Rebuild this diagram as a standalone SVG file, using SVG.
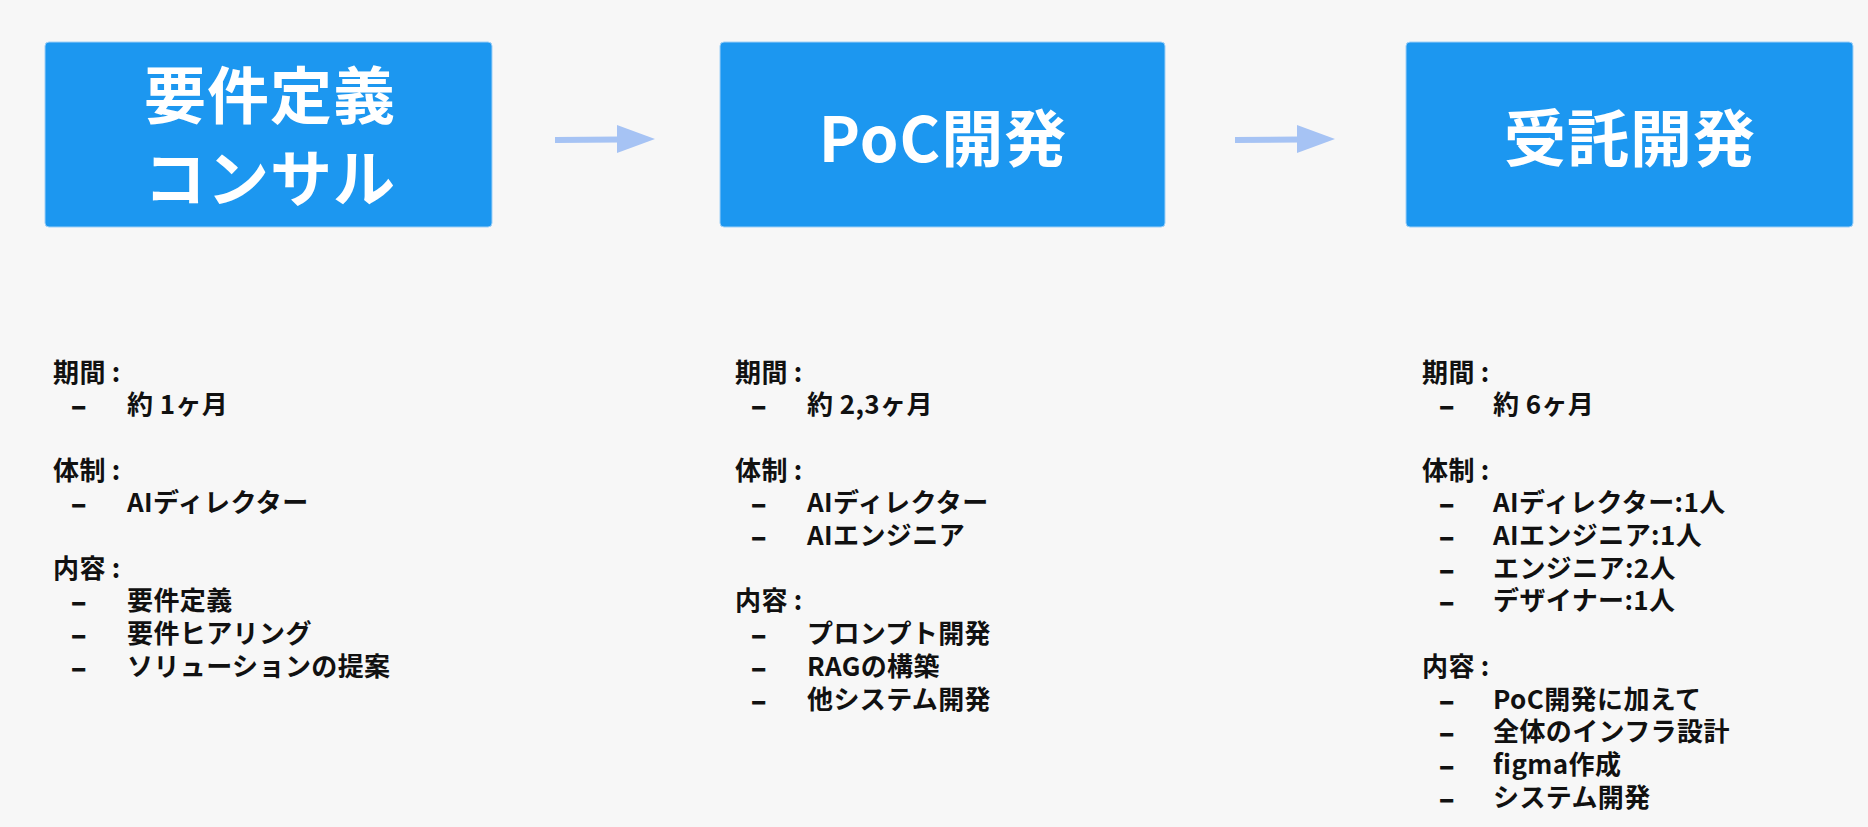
<svg xmlns="http://www.w3.org/2000/svg" width="1868" height="827" viewBox="0 0 1868 827">
<style>
.box{fill:#1c97f0;stroke:#9fd0f7;stroke-width:1}
.title{font-family:"Noto Sans CJK JP","Noto Sans",sans-serif;font-weight:700;font-size:62px;fill:#ffffff;text-anchor:middle;letter-spacing:1px}
.t{font-family:"Noto Sans CJK JP","Noto Sans",sans-serif;font-weight:700;font-size:26px;fill:#111111;letter-spacing:0.4px}
.d{font-family:"Liberation Sans",Arial,sans-serif;font-size:24px;stroke:#111111;stroke-width:1.2;letter-spacing:0}
.arrow{stroke:#a6c3f4;stroke-width:6;fill:none}
.head{fill:#a6c3f4}
</style>
<rect width="1868" height="827" fill="#f7f7f7"/>
<g id="connectors">
<g id="arrow1"><line class="arrow" x1="555" y1="140" x2="620" y2="139.5"/><polygon class="head" points="617,125 655,139 617,153"/></g>
<g id="arrow2"><line class="arrow" x1="1235" y1="140" x2="1300" y2="139.5"/><polygon class="head" points="1297,125 1335,139 1297,153"/></g>
</g>
<g id="node1">
<rect class="box" x="45" y="42" width="447" height="185" rx="4"/>
<text class="title" x="270" y="119">要件定義<tspan x="270" y="202">コンサル</tspan></text>
</g>
<g id="node2">
<rect class="box" x="720" y="42" width="445" height="185" rx="4"/>
<text class="title" x="943" y="162">PoC開発</text>
</g>
<g id="node3">
<rect class="box" x="1406" y="42" width="447" height="185" rx="4"/>
<text class="title" x="1630" y="162">受託開発</text>
</g>
<g id="details1">
<text class="t" x="53" y="382">期間<tspan dx="6">:</tspan>
<tspan class="d" x="72" y="414">–</tspan><tspan x="127" y="414">約 1ヶ月</tspan>
<tspan x="53" y="480">体制</tspan><tspan dx="6">:</tspan>
<tspan class="d" x="72" y="512">–</tspan><tspan x="127" y="512">AIディレクター</tspan>
<tspan x="53" y="578">内容</tspan><tspan dx="6">:</tspan>
<tspan class="d" x="72" y="610">–</tspan><tspan x="127" y="610">要件定義</tspan>
<tspan class="d" x="72" y="643">–</tspan><tspan x="127" y="643">要件ヒアリング</tspan>
<tspan class="d" x="72" y="676">–</tspan><tspan x="127" y="676">ソリューションの提案</tspan></text>
</g>
<g id="details2">
<text class="t" x="735" y="382">期間<tspan dx="6">:</tspan>
<tspan class="d" x="752" y="414">–</tspan><tspan x="807" y="414">約 2,3ヶ月</tspan>
<tspan x="735" y="480">体制</tspan><tspan dx="6">:</tspan>
<tspan class="d" x="752" y="512">–</tspan><tspan x="807" y="512">AIディレクター</tspan>
<tspan class="d" x="752" y="545">–</tspan><tspan x="807" y="545">AIエンジニア</tspan>
<tspan x="735" y="610">内容</tspan><tspan dx="6">:</tspan>
<tspan class="d" x="752" y="643">–</tspan><tspan x="807" y="643">プロンプト開発</tspan>
<tspan class="d" x="752" y="676">–</tspan><tspan x="807" y="676">RAGの構築</tspan>
<tspan class="d" x="752" y="709">–</tspan><tspan x="807" y="709">他システム開発</tspan></text>
</g>
<g id="details3">
<text class="t" x="1422" y="382">期間<tspan dx="6">:</tspan>
<tspan class="d" x="1440" y="414">–</tspan><tspan x="1493" y="414">約 6ヶ月</tspan>
<tspan x="1422" y="480">体制</tspan><tspan dx="6">:</tspan>
<tspan class="d" x="1440" y="512">–</tspan><tspan x="1493" y="512">AIディレクター:1人</tspan>
<tspan class="d" x="1440" y="545">–</tspan><tspan x="1493" y="545">AIエンジニア:1人</tspan>
<tspan class="d" x="1440" y="578">–</tspan><tspan x="1493" y="578">エンジニア:2人</tspan>
<tspan class="d" x="1440" y="610">–</tspan><tspan x="1493" y="610">デザイナー:1人</tspan>
<tspan x="1422" y="676">内容</tspan><tspan dx="6">:</tspan>
<tspan class="d" x="1440" y="709">–</tspan><tspan x="1493" y="709">PoC開発に加えて</tspan>
<tspan class="d" x="1440" y="741">–</tspan><tspan x="1493" y="741">全体のインフラ設計</tspan>
<tspan class="d" x="1440" y="774">–</tspan><tspan x="1493" y="774">figma作成</tspan>
<tspan class="d" x="1440" y="807">–</tspan><tspan x="1493" y="807">システム開発</tspan></text>
</g>
</svg>
